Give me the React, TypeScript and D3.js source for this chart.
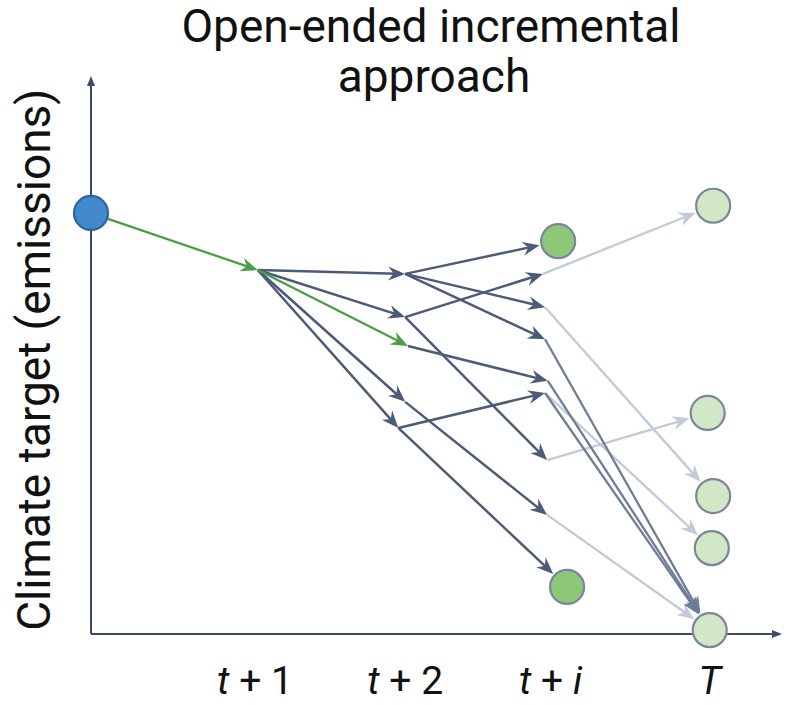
import React from 'react';
import * as d3 from 'd3';

// time axis stages (labels under the x axis)
const stageLabels = [
  [{ t: 't', it: true }, { t: ' + 1', it: false }],
  [{ t: 't', it: true }, { t: ' + 2', it: false }],
  [{ t: 't', it: true }, { t: ' + ', it: false }, { t: 'i', it: true }],
  [{ t: 'T', it: true }],
];
const stageTimes = [2.38, 4.56, 6.67, 8.98];

// nodes: time along x, emissions target along y
const startNodes = [{ id: 's', time: 0, value: 76.0 }];
const stepOneNodes = [{ id: 'a1', time: 2.42, value: 65.7 }];
const stepTwoNodes = [
  { id: 'b1', time: 4.56, value: 65.0 },
  { id: 'b2', time: 4.56, value: 57.2 },
  { id: 'b3', time: 4.6, value: 52.0 },
  { id: 'b4', time: 4.56, value: 41.9 },
  { id: 'b5', time: 4.46, value: 37.2 },
];
const stepINodes = [
  { id: 'c0', time: 6.78, value: 70.9 },
  { id: 'c1', time: 6.56, value: 65.0 },
  { id: 'c2', time: 6.59, value: 59.0 },
  { id: 'c3', time: 6.59, value: 53.2 },
  { id: 'c4', time: 6.63, value: 45.7 },
  { id: 'c5', time: 6.59, value: 43.5 },
  { id: 'c6', time: 6.62, value: 31.4 },
  { id: 'c7', time: 6.62, value: 21.5 },
  { id: 'c8', time: 6.91, value: 8.5 },
];
const targetNodes = [
  { id: 'T0', time: 9.03, value: 77.3 },
  { id: 'T1', time: 8.95, value: 39.9 },
  { id: 'T2', time: 9.03, value: 24.9 },
  { id: 'T3', time: 9.01, value: 15.5 },
  { id: 'T4', time: 8.98, value: 0.7 },
];
// nodes drawn as circles
const startCircles = ['s'];
const reachedCircles = ['c0', 'c8'];
const targetCircles = ['T0', 'T1', 'T2', 'T3', 'T4'];

// edges
const chosenEdges = [['s', 'a1'], ['a1', 'b3']];
const optionEdges = [
  ['a1', 'b1'], ['a1', 'b2'], ['a1', 'b4'], ['a1', 'b5'],
  ['b1', 'c0'], ['b1', 'c2'], ['b1', 'c3'],
  ['b2', 'c1'], ['b2', 'c6'],
  ['b3', 'c4'],
  ['b4', 'c7'],
  ['b5', 'c5'], ['b5', 'c8'],
];
const convergeEdges = [['c3', 'T4'], ['c4', 'T4'], ['c5', 'T4']];
const laterEdges = [
  ['c1', 'T0'], ['c2', 'T2'], ['c6', 'T1'], ['c5', 'T3'], ['c7', 'T4'],
];

const W = 787;
const H = 705;
const AXIS = '#3d4b69';
const R = 17;

export default function App() {
  const x = d3.scaleLinear().domain([0, 10]).range([91, 780]);
  const y = d3.scaleLinear().domain([0, 100]).range([634, 80]);

  const all = [...startNodes, ...stepOneNodes, ...stepTwoNodes, ...stepINodes, ...targetNodes];
  const byId = new Map(all.map((n) => [n.id, n]));
  const circled = new Set([...startCircles, ...reachedCircles, ...targetCircles]);

  const arrow = (e: string[], color: string, width: number, key: string) => {
    const a = byId.get(e[0])!;
    const b = byId.get(e[1])!;
    const x0 = x(a.time), y0 = y(a.value);
    const x1 = x(b.time), y1 = y(b.value);
    const ang = Math.atan2(y1 - y0, x1 - x0);
    const ux = Math.cos(ang), uy = Math.sin(ang);
    const s0 = circled.has(a.id) ? R + 1 : 0;
    const s1 = circled.has(b.id) ? R + 2 : 0;
    const sx = x0 + ux * s0, sy = y0 + uy * s0;
    const tx = x1 - ux * s1, ty = y1 - uy * s1;
    const L = 17, hw = 7, notch = 5.5;
    const pt = (along: number, side: number) =>
      `${tx + ux * along - uy * side},${ty + uy * along + ux * side}`;
    const head = `M${pt(0, 0)}L${pt(-L, -hw)}L${pt(-L + notch, 0)}L${pt(-L, hw)}Z`;
    return (
      <g key={key}>
        <line x1={sx} y1={sy} x2={tx - ux * 8} y2={ty - uy * 8}
          stroke={color} strokeWidth={width} />
        <path d={head} fill={color} />
      </g>
    );
  };

  const circle = (id: string, fill: string, stroke: string) => {
    const n = byId.get(id)!;
    return <circle key={id} cx={x(n.time)} cy={y(n.value)} r={R}
      fill={fill} stroke={stroke} strokeWidth={2.2} />;
  };

  const xEnd = 782;
  const yTop = 76;

  return (
    <svg width={W} height={H} style={{ display: 'block', background: '#fff' }}
      fontFamily="Roboto, 'Noto Sans', sans-serif">
      <style>{'body{margin:0}'}</style>

      <text x={431} y={42} textAnchor="middle" fontSize={46} fill="#111">
        Open-ended incremental
      </text>
      <text x={434} y={92} textAnchor="middle" fontSize={46} fill="#111">
        approach
      </text>

      <text transform={`translate(50,${y(49.5)}) rotate(-90)`} textAnchor="middle"
        fontSize={46} fill="#111">
        Climate target (emissions)
      </text>

      {/* axes */}
      <line x1={x(0)} y1={y(0)} x2={x(0)} y2={yTop + 6} stroke={AXIS} strokeWidth={2} />
      <path d={`M${x(0)},${yTop}L${x(0) - 4},${yTop + 10}L${x(0) + 4},${yTop + 10}Z`} fill={AXIS} />
      <line x1={x(0)} y1={y(0)} x2={xEnd - 6} y2={y(0)} stroke={AXIS} strokeWidth={2} />
      <path d={`M${xEnd},${y(0)}L${xEnd - 10},${y(0) - 4}L${xEnd - 10},${y(0) + 4}Z`} fill={AXIS} />

      {stageLabels.map((parts, i) => (
        <text key={i} x={x(stageTimes[i])} y={694} textAnchor="middle" fontSize={39} fill="#111">
          {parts.map((p, j) => (
            <tspan key={j} fontStyle={p.it ? 'italic' : 'normal'}>{p.t}</tspan>
          ))}
        </text>
      ))}

      {laterEdges.map((e, i) => arrow(e, '#c4c9d9', 2.3, `l${i}`))}
      {convergeEdges.map((e, i) => arrow(e, '#6f7c98', 2.3, `m${i}`))}
      {optionEdges.map((e, i) => arrow(e, '#4d5b7a', 2.5, `o${i}`))}
      {chosenEdges.map((e, i) => arrow(e, '#4a9f45', 2.3, `c${i}`))}

      {startCircles.map((id) => circle(id, '#4189cb', '#2a65a0'))}
      {reachedCircles.map((id) => circle(id, '#8dc878', '#7b869c'))}
      {targetCircles.map((id) => circle(id, '#d1e7c6', '#7b869c'))}
    </svg>
  );
}
